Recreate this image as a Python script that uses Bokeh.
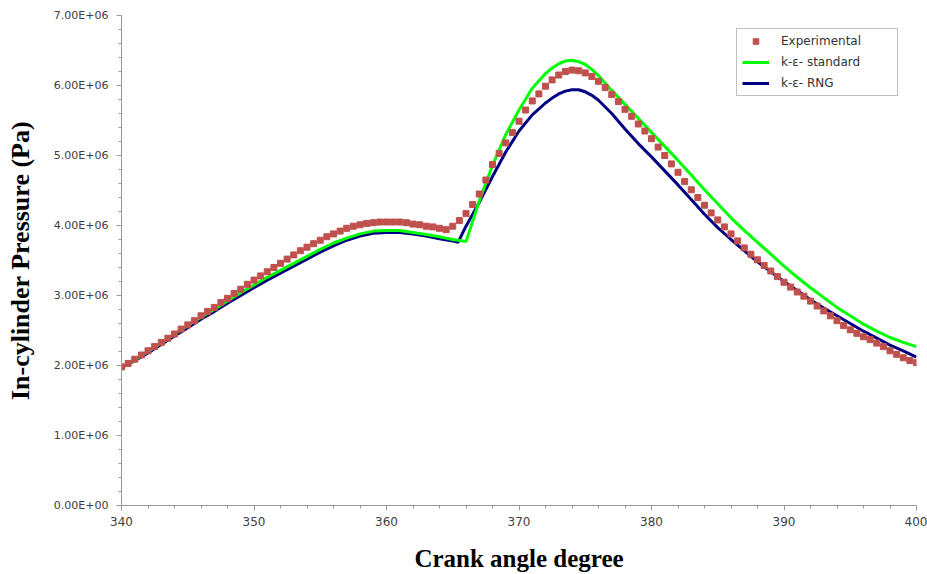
from bokeh.plotting import figure
from bokeh.models import (ColumnDataSource, FixedTicker, CustomJSTickFormatter,
                          Legend, LegendItem, Range1d)
from bokeh.embed import file_html
from bokeh.resources import INLINE

# ---------------- data (pressure in units of 1e6 Pa) ----------------
exp_angle = [340.0, 340.5, 341.0, 341.5, 342.0, 342.5, 343.0, 343.5, 344.0, 344.5,
             345.0, 345.5, 346.0, 346.5, 347.0, 347.5, 348.0, 348.5, 349.0, 349.5,
             350.0, 350.5, 351.0, 351.5, 352.0, 352.5, 353.0, 353.5, 354.0, 354.5,
             355.0, 355.5, 356.0, 356.5, 357.0, 357.5, 358.0, 358.5, 359.0, 359.5,
             360.0, 360.5, 361.0, 361.5, 362.0, 362.5, 363.0, 363.5, 364.0, 364.5,
             365.0, 365.5, 366.0, 366.5, 367.0, 367.5, 368.0, 368.5, 369.0, 369.5,
             370.0, 370.5, 371.0, 371.5, 372.0, 372.5, 373.0, 373.5, 374.0, 374.5,
             375.0, 375.5, 376.0, 376.5, 377.0, 377.5, 378.0, 378.5, 379.0, 379.5,
             380.0, 380.5, 381.0, 381.5, 382.0, 382.5, 383.0, 383.5, 384.0, 384.5,
             385.0, 385.5, 386.0, 386.5, 387.0, 387.5, 388.0, 388.5, 389.0, 389.5,
             390.0, 390.5, 391.0, 391.5, 392.0, 392.5, 393.0, 393.5, 394.0, 394.5,
             395.0, 395.5, 396.0, 396.5, 397.0, 397.5, 398.0, 398.5, 399.0, 399.5,
             400.0]
exp_pressure = [1.98, 2.03, 2.09, 2.15, 2.21, 2.27, 2.33, 2.39, 2.45, 2.52,
                2.58, 2.64, 2.71, 2.77, 2.83, 2.90, 2.96, 3.03, 3.09, 3.16,
                3.22, 3.28, 3.34, 3.40, 3.46, 3.52, 3.58, 3.64, 3.69, 3.74,
                3.79, 3.84, 3.88, 3.92, 3.96, 3.99, 4.01, 4.03, 4.04, 4.05,
                4.05, 4.05, 4.05, 4.04, 4.02, 4.01, 3.99, 3.98, 3.96, 3.94,
                3.99, 4.07, 4.17, 4.30, 4.45, 4.65, 4.87, 5.03, 5.18, 5.33,
                5.49, 5.65, 5.78, 5.88, 5.99, 6.08, 6.15, 6.20, 6.22, 6.21,
                6.18, 6.13, 6.06, 5.97, 5.87, 5.77, 5.66, 5.56, 5.45, 5.35,
                5.24, 5.12, 5.00, 4.88, 4.76, 4.63, 4.51, 4.40, 4.29, 4.18,
                4.08, 3.98, 3.88, 3.78, 3.68, 3.59, 3.51, 3.43, 3.35, 3.27,
                3.19, 3.12, 3.05, 2.99, 2.92, 2.85, 2.78, 2.71, 2.64, 2.57,
                2.51, 2.46, 2.41, 2.37, 2.32, 2.27, 2.21, 2.16, 2.11, 2.07,
                2.04]

std_angle = [340, 341, 342, 343, 344, 345, 346, 347, 348, 349,
             350, 351, 352, 353, 354, 355, 356, 357, 358, 359,
             360, 361, 362, 363, 364, 365, 366, 367, 368, 369,
             370, 371, 372, 372.5, 373, 373.5, 374, 374.5, 375, 375.5, 376,
             377, 378, 379,
             380, 381, 382, 383, 384, 385, 386, 387, 388, 389,
             390, 391, 392, 393, 394, 395, 396, 397, 398, 399, 400]
std_pressure = [1.97, 2.08, 2.20, 2.32, 2.45, 2.57, 2.69, 2.80, 2.92, 3.04,
                3.15, 3.26, 3.36, 3.46, 3.56, 3.66, 3.75, 3.82, 3.88, 3.92,
                3.93, 3.93, 3.90, 3.87, 3.84, 3.80, 3.77, 4.35, 4.86, 5.30,
                5.65, 5.96, 6.17, 6.25, 6.31, 6.35, 6.36, 6.34, 6.30, 6.23, 6.14,
                5.93, 5.73, 5.53,
                5.33, 5.13, 4.93, 4.72, 4.51, 4.31, 4.11, 3.93, 3.76, 3.59,
                3.42, 3.26, 3.11, 2.97, 2.83, 2.71, 2.59, 2.49, 2.40, 2.33, 2.27]

rng_angle = [340, 341, 342, 343, 344, 345, 346, 347, 348, 349,
             350, 351, 352, 353, 354, 355, 356, 357, 358, 359,
             360, 361, 362, 363, 364, 365, 365.4, 366, 367, 368, 369,
             370, 371, 372, 372.5, 373, 373.5, 374, 374.5, 375, 375.5, 376,
             377, 378, 379,
             380, 381, 382, 383, 384, 385, 386, 387, 388, 389,
             390, 391, 392, 393, 394, 395, 396, 397, 398, 399, 400]
rng_pressure = [1.97, 2.07, 2.18, 2.30, 2.42, 2.54, 2.66, 2.77, 2.89, 3.00,
                3.11, 3.22, 3.32, 3.42, 3.52, 3.62, 3.71, 3.79, 3.85, 3.89,
                3.90, 3.90, 3.88, 3.85, 3.81, 3.78, 3.76, 3.99, 4.33, 4.70, 5.05,
                5.35, 5.58, 5.75, 5.82, 5.88, 5.92, 5.94, 5.94, 5.91, 5.86, 5.79,
                5.60, 5.38, 5.17,
                4.98, 4.78, 4.58, 4.37, 4.16, 3.97, 3.80, 3.64, 3.48, 3.34,
                3.20, 3.07, 2.94, 2.82, 2.71, 2.60, 2.49, 2.39, 2.29, 2.21, 2.12]

series_names = ["Experimental", "k-\u03b5- standard", "k-\u03b5- RNG"]
x_ticks = [340, 350, 360, 370, 380, 390, 400]
y_ticks = [0, 1e6, 2e6, 3e6, 4e6, 5e6, 6e6, 7e6]
x_title = "Crank angle degree"
y_title = "In-cylinder Pressure (Pa)"

SCALE = 1e6
exp_src = ColumnDataSource(dict(x=exp_angle, y=[v * SCALE for v in exp_pressure]))
std_src = ColumnDataSource(dict(x=std_angle, y=[v * SCALE for v in std_pressure]))
rng_src = ColumnDataSource(dict(x=rng_angle, y=[v * SCALE for v in rng_pressure]))

# ---------------- figure ----------------
p = figure(width=927, height=574,
           x_range=Range1d(340, 400), y_range=Range1d(0, 7e6),
           output_backend="svg", toolbar_location=None,
           min_border_left=121, min_border_right=11,
           min_border_top=15, min_border_bottom=69)
p.outline_line_color = None
p.xgrid.visible = False
p.ygrid.visible = False
p.background_fill_color = "white"
p.border_fill_color = "white"

r_rng = p.line("x", "y", source=rng_src, line_color="#000080", line_width=3)
r_std = p.line("x", "y", source=std_src, line_color="#00FF00", line_width=3)
r_exp = p.scatter("x", "y", source=exp_src, marker="square", size=6,
                  fill_color="#C0504D", line_color="#C0504D")

# axes
AX_COLOR = "#999999"
for ax in (p.xaxis[0], p.yaxis[0]):
    ax.axis_line_color = AX_COLOR
    ax.major_tick_line_color = AX_COLOR
    ax.minor_tick_line_color = AX_COLOR
    ax.major_tick_in = 0
    ax.major_tick_out = 5
    ax.minor_tick_in = 0
    ax.minor_tick_out = 3
    ax.major_label_text_font = "DejaVu Sans"
    ax.major_label_text_color = "#404040"
    ax.axis_label_text_font = "Liberation Serif"
    ax.axis_label_text_font_style = "bold"
    ax.axis_label_text_color = "#000000"

p.xaxis.ticker = FixedTicker(ticks=x_ticks,
                             minor_ticks=[340 + 2 * i for i in range(31)])
p.yaxis.ticker = FixedTicker(ticks=y_ticks,
                             minor_ticks=[i * 2e5 for i in range(36)])
p.yaxis.formatter = CustomJSTickFormatter(
    code="return tick == 0 ? '0.00E+00' : (tick/1e6).toFixed(2) + 'E+06';")

p.xaxis.major_label_text_font_size = "12px"
p.yaxis.major_label_text_font_size = "11px"
p.xaxis.major_label_standoff = 6
p.yaxis.major_label_standoff = 8

p.xaxis.axis_label = x_title
p.yaxis.axis_label = y_title
p.xaxis.axis_label_text_font_size = "25px"
p.yaxis.axis_label_text_font_size = "26px"
p.xaxis.axis_label_standoff = 16
p.yaxis.axis_label_standoff = 16

legend = Legend(items=[LegendItem(label=series_names[0], renderers=[r_exp]),
                       LegendItem(label=series_names[1], renderers=[r_std]),
                       LegendItem(label=series_names[2], renderers=[r_rng])],
                location=(615, 409))
legend.border_line_color = "#7f7f7f"
legend.border_line_width = 1
legend.background_fill_color = "white"
legend.background_fill_alpha = 1.0
legend.label_text_font = "DejaVu Sans"
legend.label_text_font_size = "12px"
legend.label_text_color = "#333333"
legend.glyph_width = 27
legend.glyph_height = 14
legend.label_height = 14
legend.label_width = 111
legend.label_standoff = 12
legend.padding = 5
legend.spacing = 7
legend.margin = 0
p.add_layout(legend, "center")

open("out.html", "w").write(file_html(p, INLINE))
